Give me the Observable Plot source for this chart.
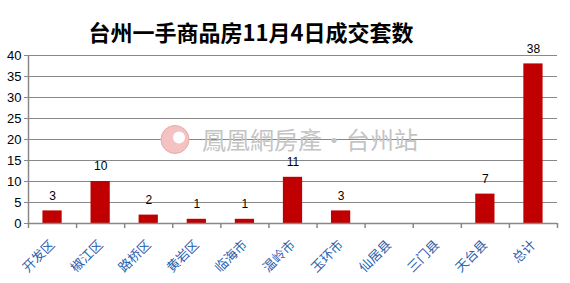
<!DOCTYPE html>
<html>
<head>
<meta charset="utf-8">
<script src="https://cdn.jsdelivr.net/npm/d3@7"></script>
<script src="https://cdn.jsdelivr.net/npm/@observablehq/plot@0.6"></script>
<style>
  html, body { margin: 0; padding: 0; background: #fff; }
  svg { display: block; }
</style>
</head>
<body>
<div id="chart"></div>
<script>
const title = "台州一手商品房11月4日成交套数";
const watermark = "鳳凰網房產·台州站";
const categories = ["开发区", "椒江区", "路桥区", "黄岩区", "临海市", "温岭市", "玉环市", "仙居县", "三门县", "天台县", "总计"];
const values = [3, 10, 2, 1, 1, 11, 3, 0, 0, 7, 38];
const yTicks = [0, 5, 10, 15, 20, 25, 30, 35, 40];

const data = categories.map((c, i) => ({category: c, index: i, value: values[i]}));
const boundaries = d3.range(categories.length + 1);
const gridTicks = yTicks.filter(t => t > 0);

const font = "'Liberation Sans', 'Noto Sans CJK SC', sans-serif";

const chart = Plot.plot({
  width: 570,
  height: 283,
  marginLeft: 28,
  marginRight: 13,
  marginTop: 55,
  marginBottom: 60,
  style: {fontFamily: font, fontSize: "12px", background: "#fff", color: "#000"},
  x: {type: "linear", domain: [0, categories.length], axis: null},
  y: {domain: [0, 40], axis: null, label: null},
  marks: [
    // gridlines
    Plot.ruleY(gridTicks, {stroke: "#888", strokeWidth: 1}),
    // watermark
    Plot.dot([0], {frameAnchor: "middle", dx: -118, dy: 0, r: 14, fill: "#f3c2c2", stroke: "#eaa8a8", strokeWidth: 1}),
    Plot.dot([0], {frameAnchor: "middle", dx: -114, dy: -2, r: 6, fill: "#fff"}),
    Plot.text([watermark], {frameAnchor: "middle", dx: 17, dy: 2, text: d => d, fill: "#c4c4c4", fontSize: 24, fontFamily: "'Noto Sans CJK TC', sans-serif"}),
    // bars
    Plot.rectY(data, {x1: d => d.index + 0.3, x2: d => d.index + 0.7, y1: 0, y2: "value", fill: "#c00000"}),
    // x axis line & boundary ticks
    Plot.ruleY([0], {stroke: "#888", strokeWidth: 1.5}),
    Plot.axisX(boundaries, {tickSize: 5, tickFormat: () => "", stroke: "#888", strokeWidth: 1.5, label: null}),
    // y axis
    Plot.ruleX([0], {stroke: "#888", strokeWidth: 1.5}),
    Plot.axisY(yTicks, {tickSize: 4, tickPadding: 3, stroke: "#888", strokeWidth: 1, fill: "#000", fontSize: 13, fontFamily: font, label: null}),
    // value labels
    Plot.text(data.filter(d => d.value > 0), {x: d => d.index + 0.5, y: "value", text: d => String(d.value), dy: -15, fill: "#000", fontSize: 12, fontFamily: font}),
    // category labels
    Plot.text(data, {x: d => d.index + 0.5, y: 0, text: "category", rotate: -45, textAnchor: "end", dy: 19, dx: 0, fill: "#2a5fb0", fontSize: 13, fontFamily: "'Noto Sans CJK SC', sans-serif", style: "letter-spacing:2px"}),
    // title
    Plot.text([title], {frameAnchor: "top", text: d => d, dy: -30, dx: -42, fontSize: 22, fontWeight: "bold", fill: "#000", fontFamily: "'Noto Sans CJK SC', serif"})
  ]
});
document.getElementById("chart").appendChild(chart);
</script>
</body>
</html>
